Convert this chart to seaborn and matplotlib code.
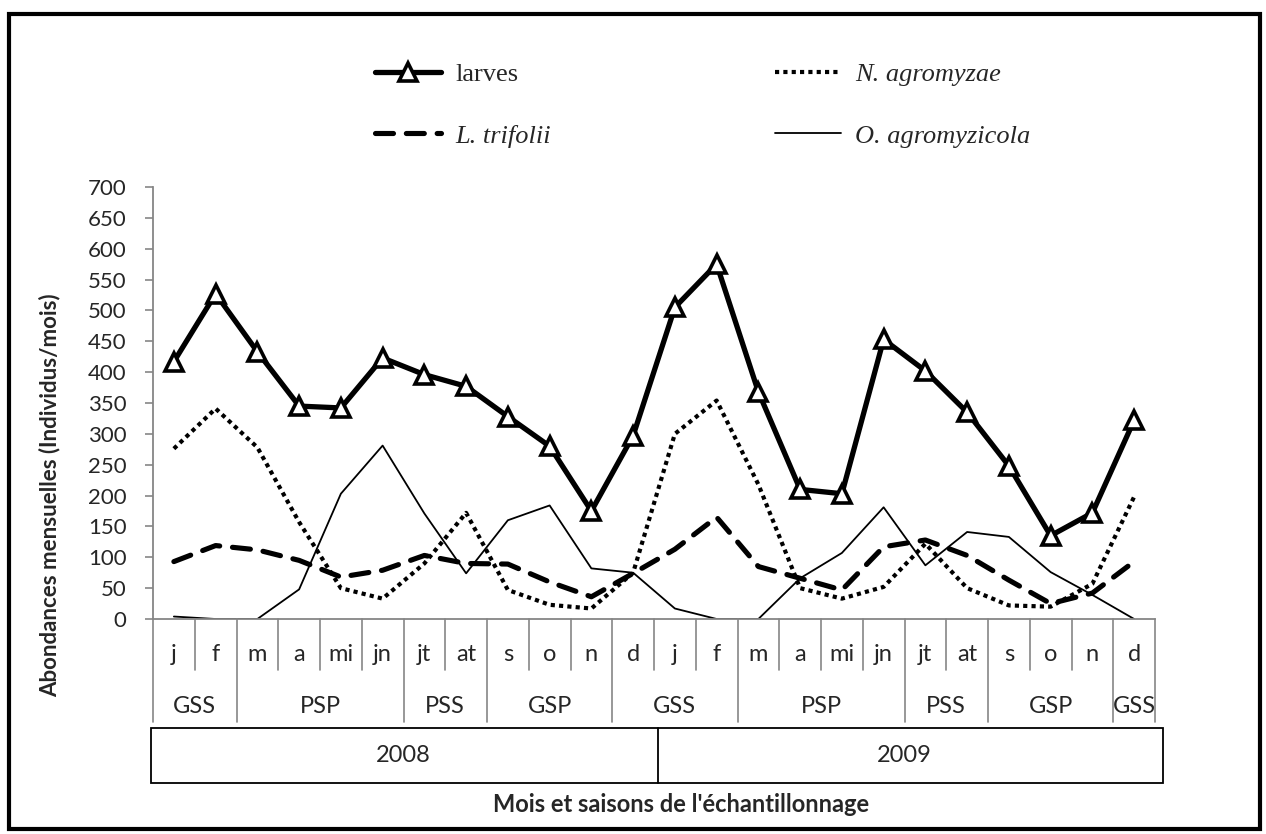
import matplotlib
matplotlib.use("Agg")
import matplotlib.pyplot as plt
import matplotlib.patches as mpatches
import seaborn as sns
import pandas as pd
import numpy as np

# months / seasons / years
months = ["j", "f", "m", "a", "mi", "jn", "jt", "at", "s", "o", "n", "d",
          "j", "f", "m", "a", "mi", "jn", "jt", "at", "s", "o", "n", "d"]
seasons = [("GSS", 0, 1), ("PSP", 2, 5), ("PSS", 6, 7), ("GSP", 8, 10),
           ("GSS", 11, 13), ("PSP", 14, 17), ("PSS", 18, 19), ("GSP", 20, 22),
           ("GSS", 23, 23)]
years = [("2008", 0, 11), ("2009", 12, 23)]

larves = [417, 527, 433, 345, 342, 423, 396, 377, 328, 280, 175, 297,
          505, 575, 368, 210, 203, 453, 402, 335, 248, 135, 172, 322]
n_agromyzae = [276, 341, 278, 157, 50, 33, 90, 172, 47, 23, 17, 75,
               300, 354, 218, 50, 33, 52, 122, 50, 22, 20, 57, 198]
l_trifolii = [93, 119, 112, 95, 68, 79, 103, 90, 89, 60, 36, 74,
              113, 165, 85, 66, 47, 117, 128, 103, 63, 25, 42, 93]
o_agromyzicola = [4, 0, 0, 48, 203, 281, 171, 74, 160, 184, 82, 75,
                  17, 0, 0, 66, 107, 181, 87, 141, 133, 76, 39, 0]

df = pd.DataFrame({
    "pos": np.arange(len(months)),
    "larves": larves,
    "N. agromyzae": n_agromyzae,
    "L. trifolii": l_trifolii,
    "O. agromyzicola": o_agromyzicola,
})

sns.set_style("white")
plt.rcParams["font.family"] = ["Lato", "DejaVu Sans"]

W, H = 1266, 834
fig = plt.figure(figsize=(W / 100, H / 100), dpi=100)
ax = fig.add_axes([153 / W, 1 - 619 / H, (1155 - 153) / W, (619 - 187) / H])

gray = "#868686"

sns.lineplot(data=df, x="pos", y="O. agromyzicola", ax=ax, color="black",
             linewidth=1.3, label="O. agromyzicola")
sns.lineplot(data=df, x="pos", y="L. trifolii", ax=ax, color="black",
             linewidth=3.7, label="L. trifolii")
sns.lineplot(data=df, x="pos", y="N. agromyzae", ax=ax, color="black",
             linewidth=3.0, label="N. agromyzae")
sns.lineplot(data=df, x="pos", y="larves", ax=ax, color="black",
             linewidth=3.8, marker="^", markersize=13, markerfacecolor="white",
             markeredgecolor="black", markeredgewidth=2.6, label="larves")

lines = ax.get_lines()
line_o, line_l, line_n, line_lv = lines[0], lines[1], lines[2], lines[3]
line_l.set_linestyle((0, (3.5, 2.5)))
line_l.set_dash_capstyle("round")
line_n.set_linestyle((0, (1, 1)))
line_n.set_dash_capstyle("butt")

ax.set_xlim(-0.5, len(months) - 0.5)
ax.set_ylim(0, 700)
ax.set_yticks(np.arange(0, 701, 50))
ax.set_xticks([])
ax.set_xlabel("")
ax.set_ylabel("")
ax.tick_params(axis="y", direction="out", length=6, width=1.2, color=gray,
               labelsize=16, pad=13, left=True)
for s in ["top", "right"]:
    ax.spines[s].set_visible(False)
for s in ["left", "bottom"]:
    ax.spines[s].set_color(gray)
    ax.spines[s].set_linewidth(1.3)

# category table under the axis
tr = ax.get_xaxis_transform()
season_edges = sorted({a - 0.5 for _, a, _ in seasons} | {len(months) - 0.5})
for i in range(len(months) + 1):
    xb = i - 0.5
    bottom = -0.239 if xb in season_edges else -0.118
    ax.plot([xb, xb], [0, bottom], transform=tr, color=gray, lw=1.2,
            clip_on=False)
for i, m in enumerate(months):
    ax.text(i, -0.083, m, transform=tr, ha="center", va="center", fontsize=17)
for name, a, b in seasons:
    ax.text((a + b) / 2, -0.203, name, transform=tr, ha="center",
            va="center", fontsize=17)

# year box
y0, y1 = -0.380, -0.252
xl, xr = -0.55, len(months) - 0.3
ax.add_patch(mpatches.Rectangle((xl, y0), xr - xl, y1 - y0, transform=tr,
                                fill=False, edgecolor="black", lw=1.3,
                                clip_on=False))
ax.plot([11.6, 11.6], [y0, y1], transform=tr, color="black", lw=1.3,
        clip_on=False)
for name, a, b in years:
    ax.text((a + b) / 2, (y0 + y1) / 2, name, transform=tr, ha="center",
            va="center", fontsize=17)

fig.text(681 / W, 1 - 805 / H, "Mois et saisons de l'échantillonnage",
         ha="center", va="center", fontsize=17, fontweight="bold")
fig.text(50 / W, 1 - 495 / H, "Abondances mensuelles (Individus/mois)",
         ha="center", va="center", rotation=90, fontsize=16,
         fontweight="bold")

# legend: two columns placed separately
ax.get_legend().remove()
leg_kw = dict(loc="center left", frameon=False, borderpad=0,
              borderaxespad=0, handlelength=2.5, handletextpad=0.55,
              labelspacing=1.45,
              prop={"family": "Liberation Serif", "size": 19})
leg1 = fig.legend([line_lv, line_l], ["larves", "L. trifolii"],
                  bbox_to_anchor=(375 / W, 1 - 105 / H), **leg_kw)
leg2 = fig.legend([line_n, line_o], ["N. agromyzae", "O. agromyzicola"],
                  bbox_to_anchor=(775 / W, 1 - 105 / H), **leg_kw)
for leg in (leg1, leg2):
    for t in leg.get_texts():
        if t.get_text() != "larves":
            t.set_fontstyle("italic")

# outer border
fig.add_artist(mpatches.Rectangle((9 / W, 5 / H), (W - 15) / W, (H - 19) / H,
                                  transform=fig.transFigure, fill=False,
                                  edgecolor="black", lw=3))

fig.savefig("out.png", dpi=100)
